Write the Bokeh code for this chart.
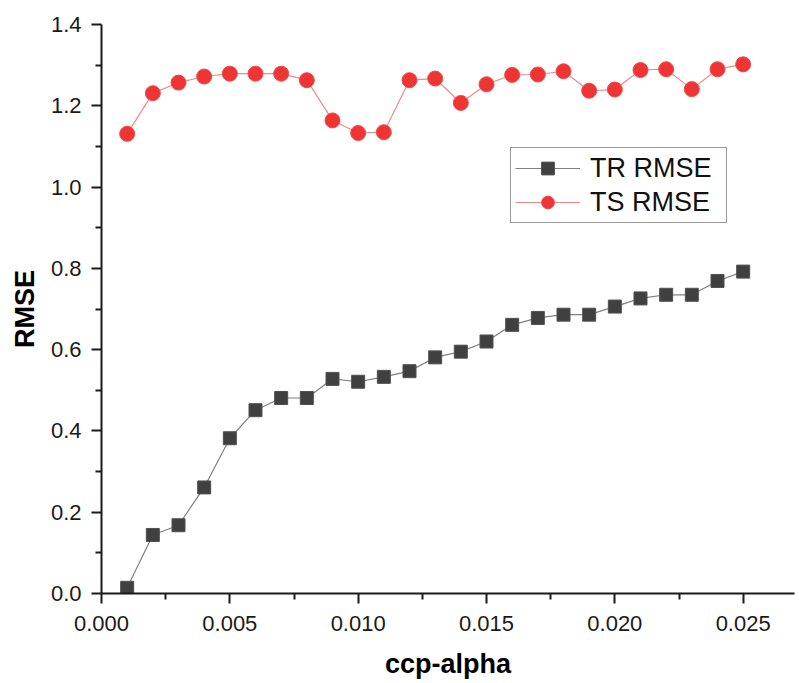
from bokeh.plotting import figure
from bokeh.models import Range1d, FixedTicker, PrintfTickFormatter, Legend, LegendItem
from bokeh.embed import file_html
from bokeh.resources import INLINE

ccp_alpha = [0.001, 0.002, 0.003, 0.004, 0.005, 0.006, 0.007, 0.008, 0.009, 0.010,
             0.011, 0.012, 0.013, 0.014, 0.015, 0.016, 0.017, 0.018, 0.019, 0.020,
             0.021, 0.022, 0.023, 0.024, 0.025]
tr_rmse = [0.014, 0.144, 0.168, 0.261, 0.382, 0.451, 0.481, 0.481, 0.528, 0.521,
           0.533, 0.547, 0.581, 0.595, 0.620, 0.661, 0.678, 0.686, 0.686, 0.706,
           0.726, 0.735, 0.735, 0.769, 0.792]
ts_rmse = [1.131, 1.231, 1.257, 1.272, 1.279, 1.279, 1.279, 1.263, 1.164, 1.133,
           1.135, 1.263, 1.267, 1.207, 1.253, 1.276, 1.277, 1.285, 1.237, 1.240,
           1.288, 1.290, 1.241, 1.290, 1.302]

x_ticks = [0.000, 0.005, 0.010, 0.015, 0.020, 0.025]
x_minor = [0.0025, 0.0075, 0.0125, 0.0175, 0.0225]
y_ticks = [0.0, 0.2, 0.4, 0.6, 0.8, 1.0, 1.2, 1.4]
y_minor = [0.1, 0.3, 0.5, 0.7, 0.9, 1.1, 1.3]

FONT = "Liberation Sans"

p = figure(width=797, height=683, output_backend="svg", toolbar_location=None,
           x_range=Range1d(0, 0.027), y_range=Range1d(0, 1.4),
           frame_width=693, frame_height=569,
           min_border_left=101, min_border_top=24, min_border_right=3, min_border_bottom=0)
p.outline_line_color = None
p.xgrid.visible = False
p.ygrid.visible = False
p.background_fill_color = "white"

tr_line = p.line(ccp_alpha, tr_rmse, line_color="#808080", line_width=1.2)
tr_pts = p.scatter(ccp_alpha, tr_rmse, marker="square", size=13,
                   fill_color="#404040", line_color="#505050", line_width=1)
ts_line = p.line(ccp_alpha, ts_rmse, line_color="#f08a8a", line_width=1.2)
ts_pts = p.scatter(ccp_alpha, ts_rmse, marker="circle", size=15,
                   fill_color="#ef3434", line_color="#f04a4a", line_width=1)

for ax, ticks, minor, fmt in ((p.xaxis[0], x_ticks, x_minor, "%.3f"),
                              (p.yaxis[0], y_ticks, y_minor, "%.1f")):
    ax.ticker = FixedTicker(ticks=ticks, minor_ticks=minor)
    ax.formatter = PrintfTickFormatter(format=fmt)
    ax.axis_line_width = 2
    ax.axis_line_color = "#1a1a1a"
    ax.major_tick_line_width = 2
    ax.major_tick_line_color = "#1a1a1a"
    ax.minor_tick_line_width = 2
    ax.minor_tick_line_color = "#1a1a1a"
    ax.major_tick_out = 10
    ax.major_tick_in = 0
    ax.minor_tick_out = 6
    ax.minor_tick_in = 0
    ax.major_label_text_font = FONT
    ax.major_label_text_font_size = "22px"
    ax.major_label_text_color = "#1a1a1a"
    ax.axis_label_text_font = FONT
    ax.axis_label_text_font_size = "27px"
    ax.axis_label_text_font_style = "bold"
    ax.axis_label_text_color = "#000000"

p.xaxis.axis_label = "ccp-alpha"
p.yaxis.axis_label = "RMSE"
p.xaxis.major_label_standoff = 12
p.xaxis.axis_label_standoff = 15
p.yaxis.major_label_standoff = 10
p.yaxis.axis_label_standoff = 8

legend = Legend(items=[LegendItem(label="TR RMSE", renderers=[tr_line, tr_pts]),
                       LegendItem(label="TS RMSE", renderers=[ts_line, ts_pts])],
                location=(409, 370))
legend.label_text_font = FONT
legend.label_text_font_size = "27px"
legend.label_text_color = "#111111"
legend.glyph_width = 65
legend.glyph_height = 32
legend.label_height = 32
legend.label_width = 132
legend.label_standoff = 10
legend.spacing = 2
legend.padding = 4
legend.margin = 0
legend.border_line_color = "#333333"
legend.border_line_width = 1
legend.background_fill_alpha = 1
p.add_layout(legend, "center")

open("out.html", "w").write(file_html(p, INLINE))
